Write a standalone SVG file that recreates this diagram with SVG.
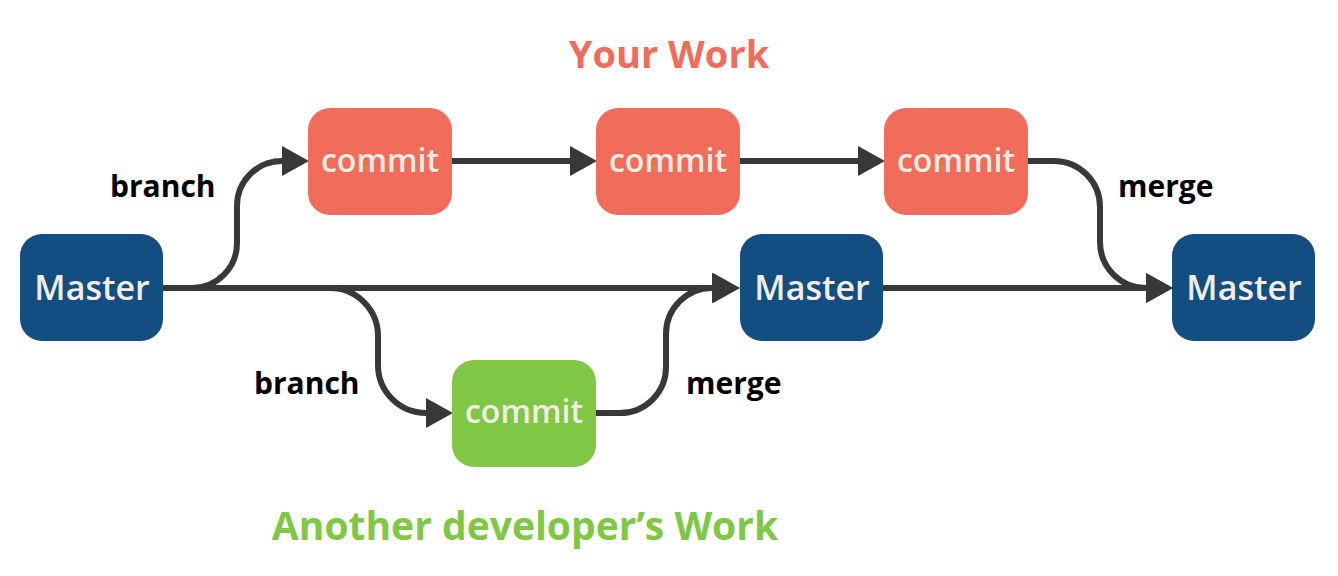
<svg xmlns="http://www.w3.org/2000/svg" width="1338" height="576" viewBox="0 0 1338 576">
<defs>
<style>
.master{fill:#124e81}
.mine{fill:#f26c5c}
.other{fill:#7fc744}
.nt{font-family:"Open Sans","Liberation Sans",sans-serif;font-weight:600;fill:#f1ede4;text-anchor:middle}
.lbl{font-family:"Open Sans","Liberation Sans",sans-serif;font-weight:700;font-size:30px;fill:#000}
.ttl{font-family:"Open Sans","Liberation Sans",sans-serif;font-weight:700;text-anchor:middle}
.edge{fill:none;stroke:#383838;stroke-width:6}
</style>
<marker id="arr" markerUnits="userSpaceOnUse" markerWidth="27" markerHeight="30" viewBox="0 0 27 30" refX="0" refY="15" orient="auto">
<path d="M0,0 L27,15 L0,30 z" fill="#383838"/>
</marker>
</defs>
<rect width="1338" height="576" fill="#fff"/>
<text class="ttl" x="669" y="68" font-size="38" fill="#f26c5c">Your Work</text>
<text class="ttl" x="525" y="540" font-size="39" fill="#7fc744">Another developer’s Work</text>
<g id="connectors">
<path class="edge" d="M163,288 H713" marker-end="url(#arr)"/>
<path class="edge" d="M163,288 H192 A45,45 0 0 0 237,243 V206 A45,45 0 0 1 282,161" marker-end="url(#arr)"/>
<path class="edge" d="M330,288 A48,48 0 0 1 378,336 V365 A48,48 0 0 0 426,413" marker-end="url(#arr)"/>
<path class="edge" d="M596,413 H620 A46,46 0 0 0 666,367 V334 A46,46 0 0 1 712,288" marker-end="url(#arr)"/>
<path class="edge" d="M452,161 H570" marker-end="url(#arr)"/>
<path class="edge" d="M740,161 H858" marker-end="url(#arr)"/>
<path class="edge" d="M1028,161 H1054 A46,46 0 0 1 1100,207 V242 A46,46 0 0 0 1146,288" marker-end="url(#arr)"/>
<path class="edge" d="M883,288 H1146" marker-end="url(#arr)"/>
</g>
<g id="labels">
<text class="lbl" x="110" y="197">branch</text>
<text class="lbl" x="1118" y="197">merge</text>
<text class="lbl" x="254" y="394">branch</text>
<text class="lbl" x="686" y="394">merge</text>
</g>
<g id="master1"><rect class="master" x="20" y="234" width="143" height="107" rx="22"/><text class="nt" x="92" y="300" font-size="34">Master</text></g>
<g id="commit1"><rect class="mine" x="308" y="108" width="144" height="107" rx="22"/><text class="nt" x="380" y="172" font-size="32">commit</text></g>
<g id="commit2"><rect class="mine" x="596" y="108" width="144" height="107" rx="22"/><text class="nt" x="668" y="172" font-size="32">commit</text></g>
<g id="commit3"><rect class="mine" x="884" y="108" width="144" height="107" rx="22"/><text class="nt" x="956" y="172" font-size="32">commit</text></g>
<g id="commit4"><rect class="other" x="452" y="360" width="144" height="107" rx="22"/><text class="nt" x="524" y="423" font-size="32">commit</text></g>
<g id="master2"><rect class="master" x="740" y="234" width="143" height="107" rx="22"/><text class="nt" x="812" y="300" font-size="34">Master</text></g>
<g id="master3"><rect class="master" x="1172" y="234" width="143" height="107" rx="22"/><text class="nt" x="1244" y="300" font-size="34">Master</text></g>
</svg>
